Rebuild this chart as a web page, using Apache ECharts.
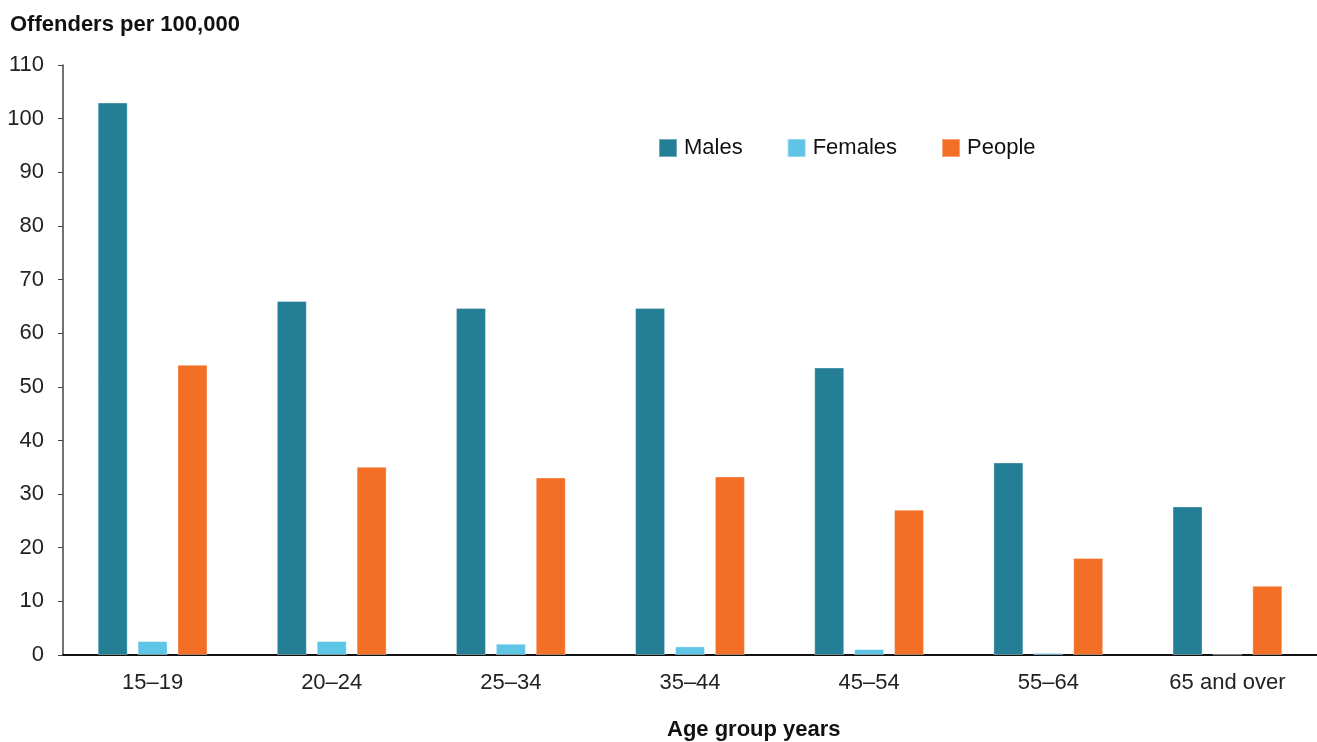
<!DOCTYPE html>
<html><head><meta charset="utf-8">
<script src="https://cdn.jsdelivr.net/npm/echarts@6/dist/echarts.min.js"></script>
<style>html,body{margin:0;padding:0;background:#fff}#c{width:1317px;height:742px}</style>
</head><body><div id="c"></div>
<script>
const categories = ['15–19','20–24','25–34','35–44','45–54','55–64','65 and over'];
const males   = [103, 66.0, 64.7, 64.7, 53.6, 35.9, 27.7];
const females = [2.6, 2.6, 2.1, 1.6, 1.1, 0.4, 0.1];
const people  = [54.1, 35.1, 33.1, 33.3, 27.1, 18.1, 12.9];
const yTicks = {min: 0, max: 110, interval: 10};

const font = '"Liberation Sans", Arial, sans-serif';
const chart = echarts.init(document.getElementById('c'));
const barStyle = c => ({color: c, borderColor: 'rgba(255,255,255,0.35)', borderWidth: 1});
chart.setOption({
  animation: false,
  textStyle: {fontFamily: font},
  title: [
    {text: 'Offenders per 100,000', left: 5, top: 9,
     textStyle: {fontFamily: font, fontSize: 22, fontWeight: 'bold', color: '#111'}},
    {text: 'Age group years', left: 662, top: 714,
     textStyle: {fontFamily: font, fontSize: 22, fontWeight: 'bold', color: '#111'}}
  ],
  legend: {
    left: 653, top: 132, itemWidth: 18, itemHeight: 18, itemGap: 44,
    icon: 'rect',
    textStyle: {fontFamily: font, fontSize: 22, color: '#111', padding: [0,0,0,2]},
    data: ['Males','Females','People']
  },
  grid: {left: 63, right: 0, top: 65, bottom: 87, containLabel: false},
  xAxis: {
    type: 'category', data: categories,
    axisLine: {lineStyle: {color: '#111', width: 2}},
    axisTick: {show: false},
    axisLabel: {fontFamily: font, fontSize: 22, color: '#222', margin: 17}
  },
  yAxis: {
    type: 'value', min: yTicks.min, max: yTicks.max, interval: yTicks.interval,
    axisLine: {show: true, lineStyle: {color: '#444', width: 1.5}},
    axisTick: {show: true, inside: false, length: 5, lineStyle: {color: '#444'}},
    splitLine: {show: false},
    axisLabel: {fontFamily: font, fontSize: 22, color: '#222', margin: 19}
  },
  series: [
    {name: 'Males', type: 'bar', data: males, barWidth: 30, barGap: '33%', itemStyle: barStyle('#237E96')},
    {name: 'Females', type: 'bar', data: females, barWidth: 30, barGap: '33%', itemStyle: barStyle('#5EC5E7')},
    {name: 'People', type: 'bar', data: people, barWidth: 30, barGap: '33%', itemStyle: barStyle('#F36F26')}
  ]
});
</script></body></html>
